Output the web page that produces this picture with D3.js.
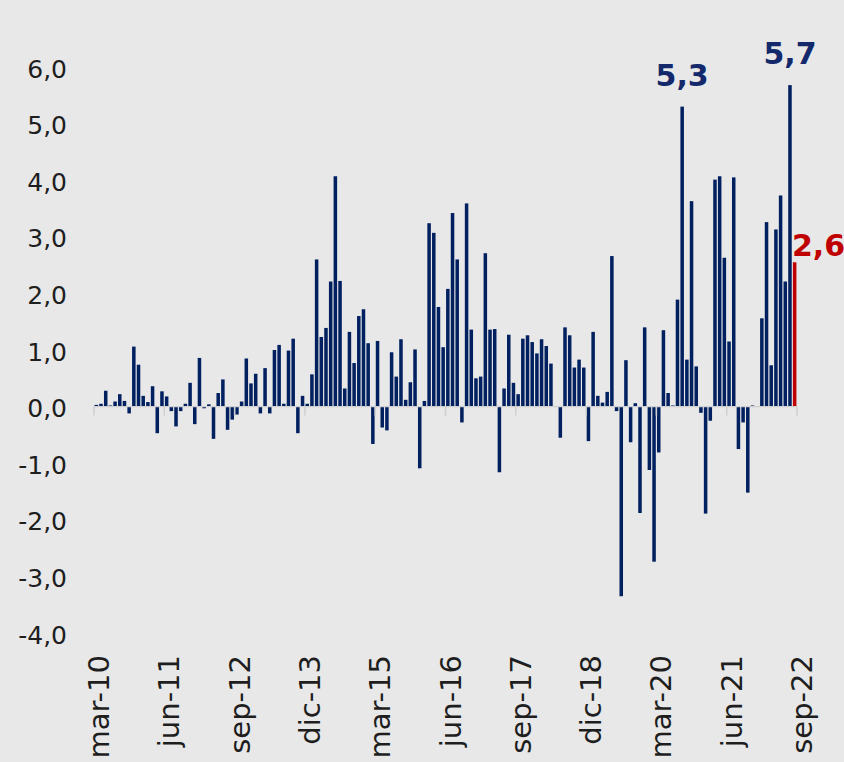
<!DOCTYPE html>
<html>
<head>
<meta charset="utf-8">
<script src="https://cdn.jsdelivr.net/npm/d3@7"></script>
<style>
  body { margin: 0; background: #e8e8e8; }
  svg { display: block; }
</style>
</head>
<body>
<svg id="chart" width="844" height="762"></svg>
<script>
// variacion mensual, mar-10 .. sep-22
let valores = [
  0.03, 0.05, 0.28, 0.02, 0.09, 0.22, 0.10, -0.12, 1.06, 0.74,
  0.19, 0.08, 0.36, -0.47, 0.27, 0.18, -0.08, -0.35, -0.08, 0.05,
  0.42, -0.31, 0.86, -0.03, 0.04, -0.57, 0.24, 0.48, -0.41, -0.23,
  -0.14, 0.09, 0.85, 0.41, 0.58, -0.12, 0.68, -0.12, 1.00, 1.09,
  0.05, 0.99, 1.20, -0.47, 0.19, 0.05, 0.57, 2.60, 1.23, 1.39,
  2.21, 4.07, 2.22, 0.32, 1.32, 0.77, 1.60, 1.72, 1.12, -0.66,
  1.16, -0.37, -0.42, 0.96, 0.53, 1.19, 0.12, 0.43, 1.01, -1.09,
  0.10, 3.24, 3.07, 1.76, 1.05, 2.08, 3.42, 2.60, -0.28, 3.59,
  1.36, 0.50, 0.53, 2.71, 1.36, 1.37, -1.16, 0.32, 1.27, 0.42,
  0.22, 1.20, 1.26, 1.14, 0.94, 1.19, 1.07, 0.76, 0.00, -0.55,
  1.40, 1.26, 0.69, 0.83, 0.69, -0.61, 1.32, 0.19, 0.07, 0.26,
  2.66, -0.08, -3.35, 0.82, -0.63, 0.06, -1.88, 1.40, -1.12, -2.74,
  -0.81, 1.35, 0.24, 0.02, 1.89, 5.30, 0.83, 3.63, 0.71, -0.11,
  -1.89, -0.25, 4.01, 4.07, 2.63, 1.15, 4.05, -0.75, -0.28, -1.52,
  0.02, 0.00, 1.56, 3.26, 0.73, 3.13, 3.73, 2.21, 5.68, 2.55
];
let etiquetasX = ["mar-10", "jun-11", "sep-12", "dic-13", "mar-15", "jun-16",
                  "sep-17", "dic-18", "mar-20", "jun-21", "sep-22"];
let ticksY = [6, 5, 4, 3, 2, 1, 0, -1, -2, -3, -4];
// etiquetas destacadas: indice de la barra y texto
let destacados = [
  { i: 125, texto: "5,3", color: "#13296b", anchor: "middle" },
  { i: 148, texto: "5,7", color: "#13296b", anchor: "middle" },
  { i: 149, texto: "2,6", color: "#c00000", anchor: "start" }
];

let svg = d3.select("#chart");
let W = 844, H = 762;
let x0 = 94, x1 = 797;

let x = d3.scaleBand()
  .domain(d3.range(valores.length))
  .range([x0, x1])
  .paddingInner(0.25)
  .paddingOuter(0.125);
// limites entre meses, para ticks y etiquetas del eje
let xLim = d3.scaleLinear().domain([0, valores.length]).range([x0, x1]);
let y = d3.scaleLinear().domain([-4, 6]).range([633, 67]);

let fmt = function (d) { return d3.format(".1f")(d).replace(".", ",").replace("−", "-"); };

svg.append("rect").attr("width", W).attr("height", H).attr("fill", "#e8e8e8");

// eje y (solo etiquetas)
svg.append("g").selectAll("text").data(ticksY).join("text")
  .attr("x", 67)
  .attr("y", function (d) { return y(d) + 2; })
  .attr("text-anchor", "end")
  .attr("dominant-baseline", "central")
  .attr("font-family", "DejaVu Sans, sans-serif")
  .attr("font-size", 25)
  .attr("fill", "#1e1e1e")
  .text(fmt);

// barras
svg.append("g").selectAll("rect").data(valores).join("rect")
  .attr("x", function (d, i) { return x(i); })
  .attr("width", x.bandwidth())
  .attr("y", function (d) { return y(Math.max(0, d)); })
  .attr("height", function (d) { return Math.abs(y(d) - y(0)); })
  .attr("fill", function (d, i) { return i == valores.length - 1 ? "#c00000" : "#002060"; });

// linea del cero y ticks
svg.append("line")
  .attr("x1", x0).attr("x2", x1)
  .attr("y1", y(0)).attr("y2", y(0))
  .attr("stroke", "#cfcfcf").attr("stroke-width", 1.2);
svg.append("g").selectAll("line").data(etiquetasX).join("line")
  .attr("x1", function (d, i) { return xLim(i * 15); })
  .attr("x2", function (d, i) { return xLim(i * 15); })
  .attr("y1", y(0)).attr("y2", y(0) + 9)
  .attr("stroke", "#cfcfcf").attr("stroke-width", 1.5);

// etiquetas eje x, rotadas
svg.append("g").selectAll("text").data(etiquetasX).join("text")
  .attr("transform", function (d, i) {
    return "translate(" + (xLim(i * 15) + 15) + ",655) rotate(-90)";
  })
  .attr("text-anchor", "end")
  .attr("font-family", "DejaVu Sans, sans-serif")
  .attr("font-size", 29)
  .attr("fill", "#1e1e1e")
  .text(function (d) { return d; });

// valores destacados
svg.append("g").selectAll("text").data(destacados).join("text")
  .attr("x", function (d) {
    return d.anchor == "start" ? x(d.i) - 1 : x(d.i) + x.bandwidth() / 2;
  })
  .attr("y", function (d) {
    return d.anchor == "start" ? y(valores[d.i]) - 6 : y(valores[d.i]) - 21;
  })
  .attr("text-anchor", function (d) { return d.anchor; })
  .attr("font-family", "DejaVu Sans, sans-serif")
  .attr("font-weight", "bold")
  .attr("font-size", 30)
  .attr("fill", function (d) { return d.color; })
  .text(function (d) { return d.texto; });
</script>
</body>
</html>
